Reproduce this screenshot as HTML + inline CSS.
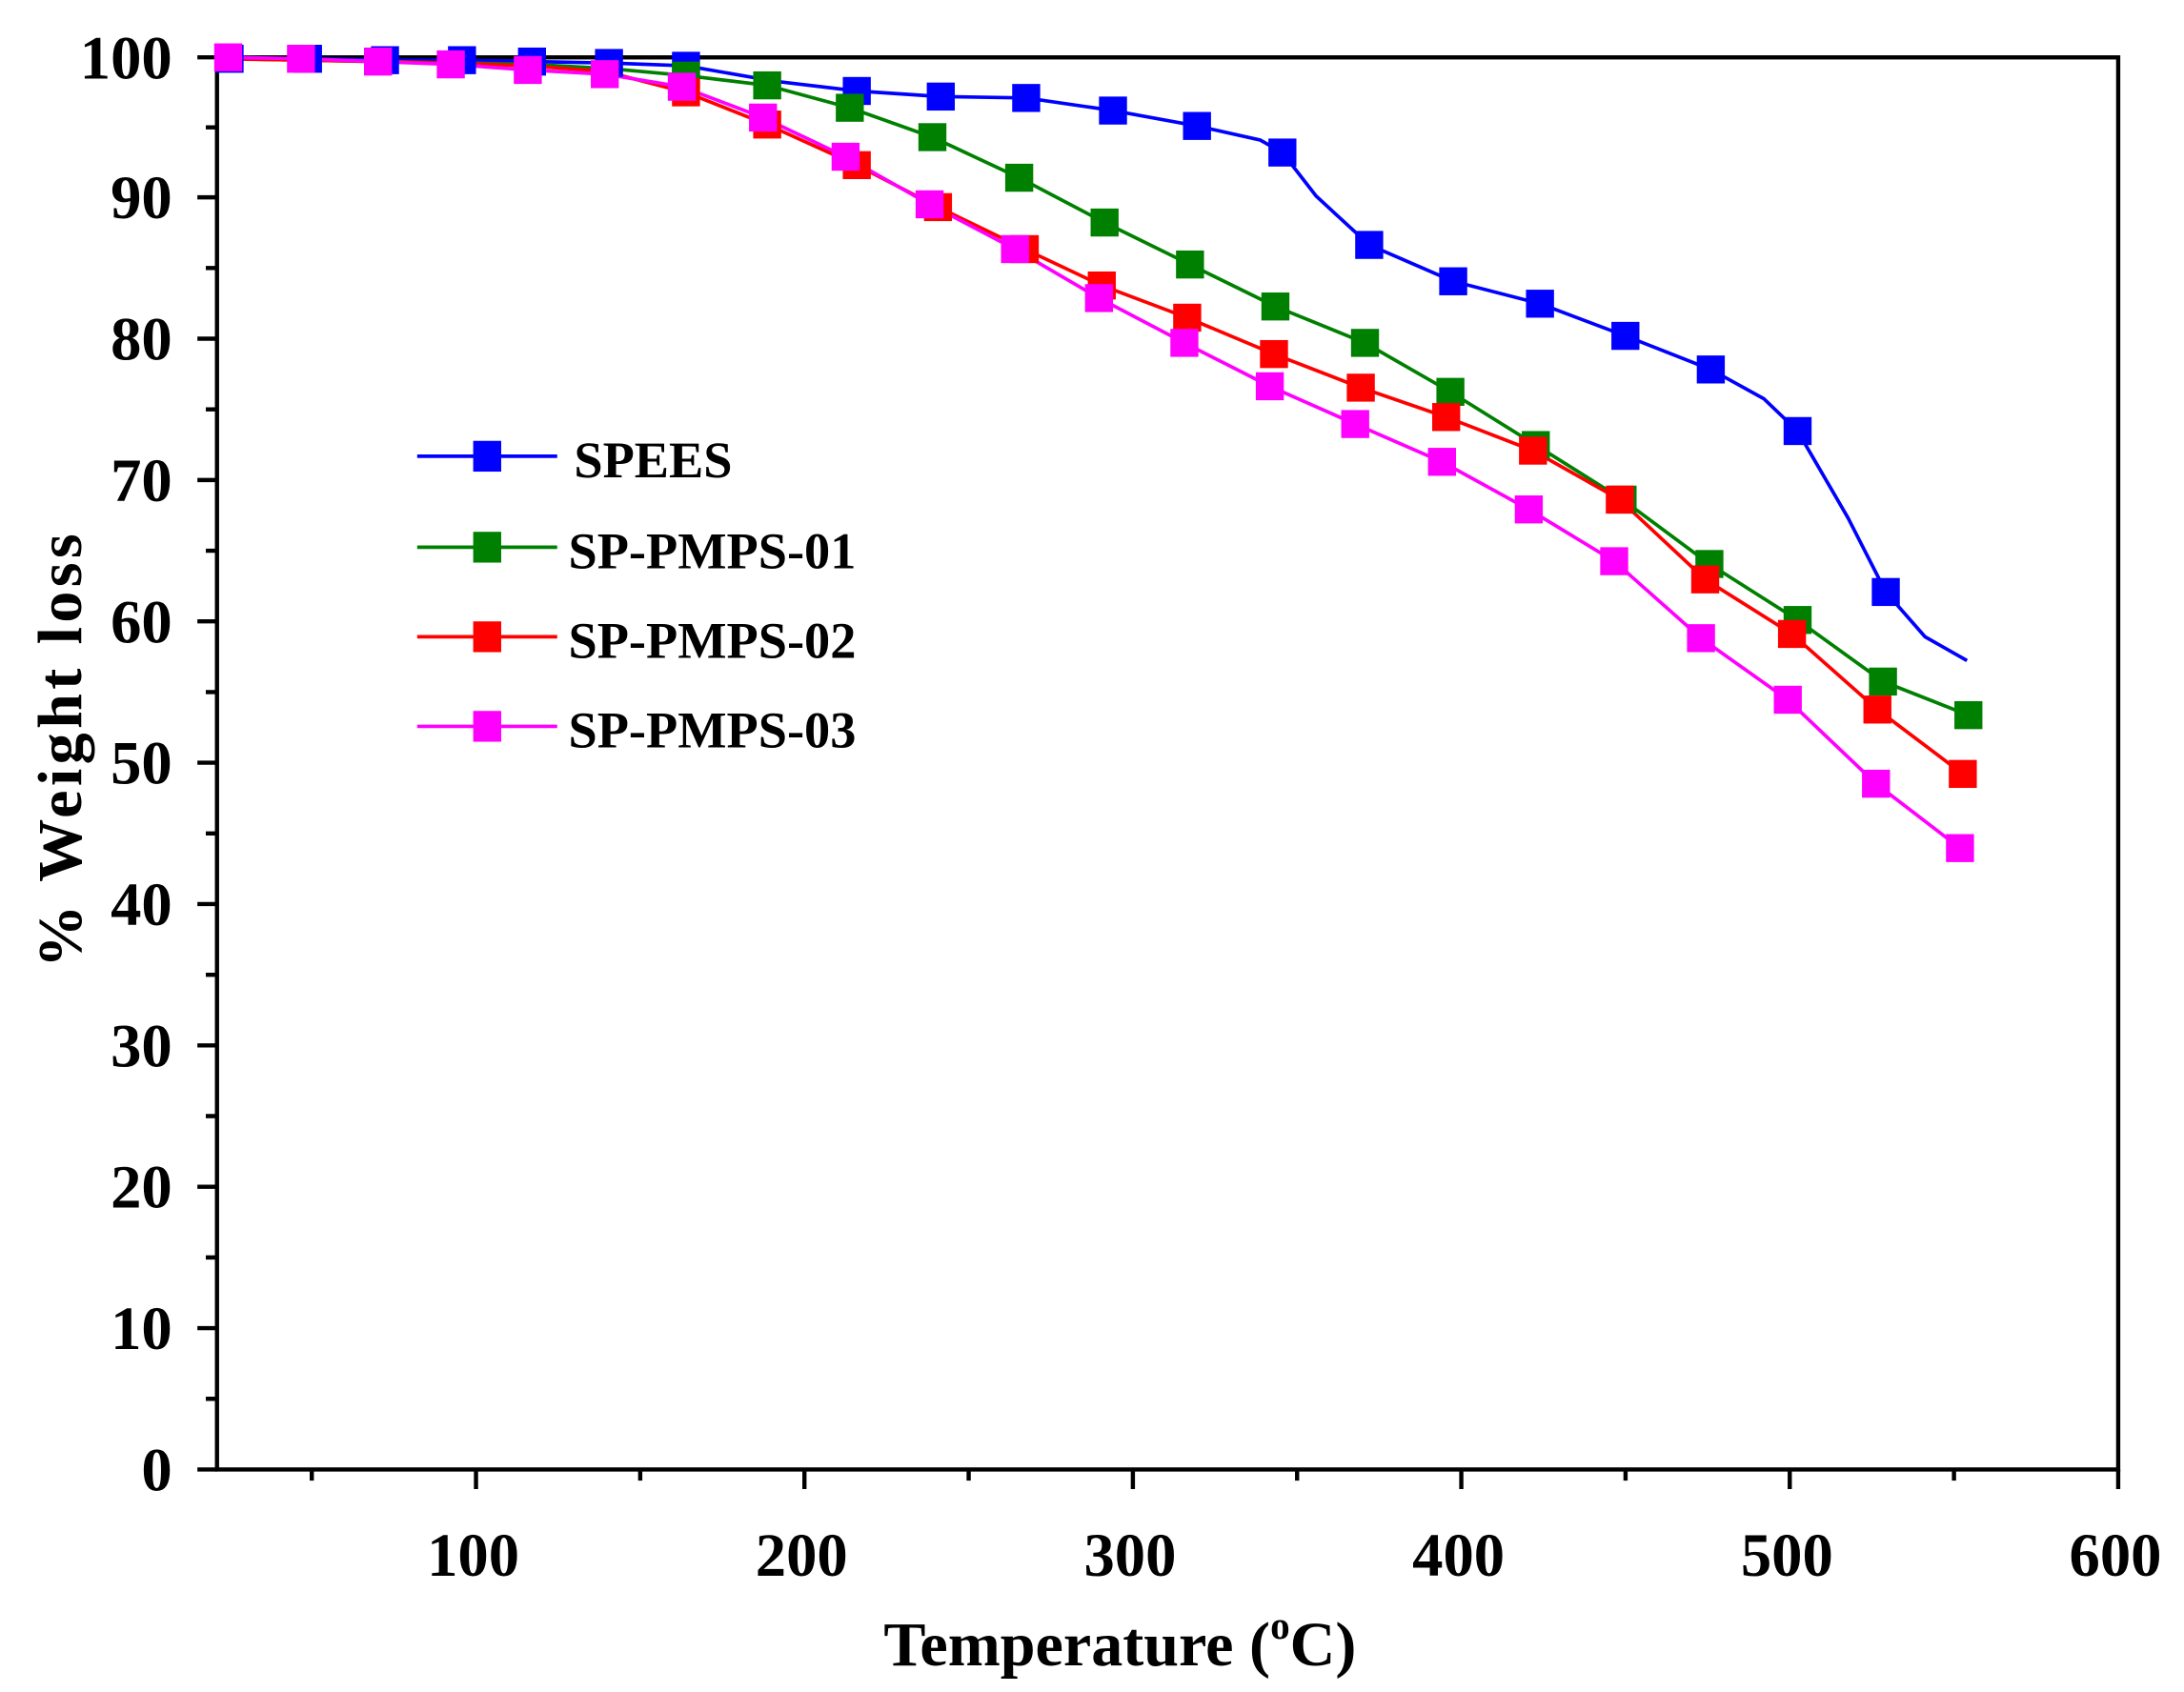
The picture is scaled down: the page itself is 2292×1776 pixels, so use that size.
<!DOCTYPE html>
<html><head><meta charset="utf-8"><style>
html,body{margin:0;padding:0;background:#fff;}
svg{display:block;}
text{font-family:"Liberation Serif",serif;font-weight:bold;fill:#000;}
</style></head><body>
<svg width="2292" height="1776" viewBox="0 0 1560 1209" preserveAspectRatio="none" xmlns="http://www.w3.org/2000/svg">
<rect width="1560" height="1209" fill="#fff"/>
<g stroke="#000" stroke-width="3" fill="none">
<rect x="155" y="41" width="1358" height="1009"/>
<path d="M340 1050v14M574.6 1050v14M809.2 1050v14M1043.8 1050v14M1278.4 1050v14M1513 1050v14"/>
<path d="M222.7 1050v8M457.3 1050v8M691.9 1050v8M926.5 1050v8M1161.1 1050v8M1395.7 1050v8"/>
<path d="M155 1050h-14M155 949h-14M155 848h-14M155 747h-14M155 646h-14M155 545h-14M155 444h-14M155 343h-14M155 242h-14M155 141h-14M155 41h-14"/>
<path d="M155 999.5h-8M155 898.5h-8M155 797.5h-8M155 696.5h-8M155 595.5h-8M155 494.5h-8M155 393.5h-8M155 292.5h-8M155 191.5h-8M155 91h-8"/>
</g>
<g font-size="44" text-anchor="end">
<text x="123" y="1065">0</text><text x="123" y="964">10</text><text x="123" y="863">20</text><text x="123" y="762">30</text><text x="123" y="661">40</text><text x="123" y="560">50</text><text x="123" y="459">60</text><text x="123" y="358">70</text><text x="123" y="257">80</text><text x="123" y="156">90</text><text x="123" y="56">100</text>
</g>
<g font-size="44" text-anchor="middle">
<text x="338" y="1126">100</text><text x="572.6" y="1126">200</text><text x="807.2" y="1126">300</text><text x="1041.8" y="1126">400</text><text x="1276.4" y="1126">500</text><text x="1511" y="1126">600</text>
</g>
<text x="800" y="1190" font-size="45" text-anchor="middle">Temperature (<tspan font-size="28" dy="-19">o</tspan><tspan dy="19">C)</tspan></text>
<text transform="translate(58 535) rotate(-90)" font-size="45" text-anchor="middle" letter-spacing="3">% Weight loss</text>

<g fill="none" stroke-width="2.5" stroke-linejoin="round">
<polyline stroke="#0000ff" points="163,41 220,42 275,43 330,43 380,44 435,45 490,47 553,58 612,65 672,69 733,70 795,79 855,90 900,100 916,109 940,140 978,175 1038,201 1100,217 1161,240 1222,264 1260,285 1284,308 1320,370 1347,423 1375,455 1405,472"/>
<polyline stroke="#008000" points="163,42 220,43 275,44 330,45 380,46 435,49 490,54 548,61 607,77 666,98 728,127 789,159 850,189 911,219 975,245 1036,280 1097,318 1159,357 1221,403 1284,443 1345,487 1406,511"/>
<polyline stroke="#ff0000" points="163,42 215,43 270,44 322,45 377,47 432,51 490,66 548,89 612,118 670,148 732,178 787,204 848,227 910,253 972,277 1033,298 1095,322 1157,357 1218,414 1280,453 1341,507 1402,553"/>
<polyline stroke="#ff00ff" points="163,41 215,42 270,44 322,46 377,50 432,53 487,62 545,84 604,112 664,146 725,178 785,213 846,245 907,276 968,303 1030,330 1092,364 1153,401 1215,456 1277,500 1340,560 1400,606"/>
</g>
<g fill="#0000ff">
<rect x="154" y="32" width="20" height="20"/><rect x="210" y="32" width="20" height="20"/><rect x="265" y="33" width="20" height="20"/><rect x="320" y="33" width="20" height="20"/><rect x="370" y="34" width="20" height="20"/><rect x="425" y="35" width="20" height="20"/><rect x="480" y="37" width="20" height="20"/>
<rect x="602" y="55" width="20" height="20"/><rect x="662" y="59" width="20" height="20"/><rect x="723" y="60" width="20" height="20"/><rect x="785" y="69" width="20" height="20"/><rect x="845" y="80" width="20" height="20"/><rect x="906" y="99" width="20" height="20"/><rect x="968" y="165" width="20" height="20"/><rect x="1028" y="191" width="20" height="20"/><rect x="1090" y="207" width="20" height="20"/><rect x="1151" y="230" width="20" height="20"/><rect x="1212" y="254" width="20" height="20"/><rect x="1274" y="298" width="20" height="20"/><rect x="1337" y="413" width="20" height="20"/>
</g>
<g fill="#008000">
<rect x="480" y="44" width="20" height="20"/><rect x="538" y="51" width="20" height="20"/><rect x="597" y="67" width="20" height="20"/><rect x="656" y="88" width="20" height="20"/><rect x="718" y="117" width="20" height="20"/><rect x="779" y="149" width="20" height="20"/><rect x="840" y="179" width="20" height="20"/><rect x="901" y="209" width="20" height="20"/><rect x="965" y="235" width="20" height="20"/><rect x="1026" y="270" width="20" height="20"/><rect x="1087" y="308" width="20" height="20"/><rect x="1149" y="347" width="20" height="20"/><rect x="1211" y="393" width="20" height="20"/><rect x="1274" y="433" width="20" height="20"/><rect x="1335" y="477" width="20" height="20"/><rect x="1396" y="501" width="20" height="20"/>
</g>
<g fill="#ff0000">
<rect x="480" y="56" width="20" height="20"/><rect x="538" y="79" width="20" height="20"/><rect x="602" y="108" width="20" height="20"/><rect x="660" y="138" width="20" height="20"/><rect x="722" y="168" width="20" height="20"/><rect x="777" y="194" width="20" height="20"/><rect x="838" y="217" width="20" height="20"/><rect x="900" y="243" width="20" height="20"/><rect x="962" y="267" width="20" height="20"/><rect x="1023" y="288" width="20" height="20"/><rect x="1085" y="312" width="20" height="20"/><rect x="1147" y="347" width="20" height="20"/><rect x="1208" y="404" width="20" height="20"/><rect x="1270" y="443" width="20" height="20"/><rect x="1331" y="497" width="20" height="20"/><rect x="1392" y="543" width="20" height="20"/>
</g>
<g fill="#ff00ff">
<rect x="153" y="31" width="20" height="20"/><rect x="205" y="32" width="20" height="20"/><rect x="260" y="34" width="20" height="20"/><rect x="312" y="36" width="20" height="20"/><rect x="367" y="40" width="20" height="20"/><rect x="422" y="43" width="20" height="20"/><rect x="477" y="52" width="20" height="20"/><rect x="535" y="74" width="20" height="20"/><rect x="594" y="102" width="20" height="20"/><rect x="654" y="136" width="20" height="20"/><rect x="715" y="168" width="20" height="20"/><rect x="775" y="203" width="20" height="20"/><rect x="836" y="235" width="20" height="20"/><rect x="897" y="266" width="20" height="20"/><rect x="958" y="293" width="20" height="20"/><rect x="1020" y="320" width="20" height="20"/><rect x="1082" y="354" width="20" height="20"/><rect x="1143" y="391" width="20" height="20"/><rect x="1205" y="446" width="20" height="20"/><rect x="1267" y="490" width="20" height="20"/><rect x="1330" y="550" width="20" height="20"/><rect x="1390" y="596" width="20" height="20"/>
</g>
<g stroke-width="2.5">
<line x1="298" y1="326" x2="398" y2="326" stroke="#0000ff"/><rect x="338" y="315" width="20" height="22" fill="#0000ff"/>
<line x1="298" y1="391" x2="398" y2="391" stroke="#008000"/><rect x="338" y="380" width="20" height="22" fill="#008000"/>
<line x1="298" y1="455" x2="398" y2="455" stroke="#ff0000"/><rect x="338" y="444" width="20" height="22" fill="#ff0000"/>
<line x1="298" y1="519" x2="398" y2="519" stroke="#ff00ff"/><rect x="338" y="508" width="20" height="22" fill="#ff00ff"/>
</g>
<g font-size="37">
<text x="410" y="341">SPEES</text>
<text x="406" y="406">SP-PMPS-01</text>
<text x="406" y="470">SP-PMPS-02</text>
<text x="406" y="534">SP-PMPS-03</text>
</g>
</svg>
</body></html>
